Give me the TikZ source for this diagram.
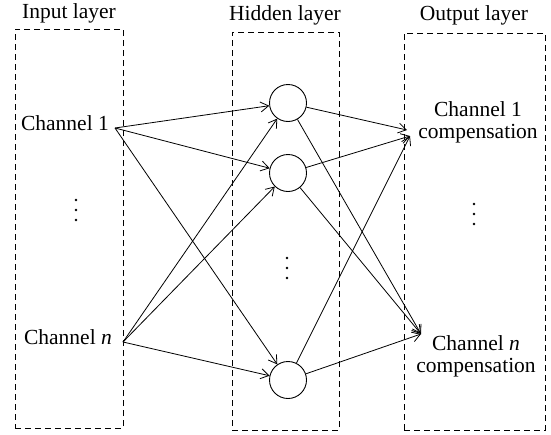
\documentclass[tikz,border=0pt]{standalone}
\usepackage{fontspec}
\setmainfont{Liberation Serif}
\usetikzlibrary{arrows.meta}
\begin{document}
\begin{tikzpicture}[x=1pt,y=-1pt,
  every node/.style={font=\fontsize{21.5}{22}\selectfont, inner sep=0pt},
  layerbox/.style={draw, dashed, dash pattern=on 6pt off 4pt, line width=0.9pt},
  neuron/.style={draw, circle, line width=0.9pt, minimum size=37pt},
  dotmark/.style={fill=black},
  conn/.style={line width=0.8pt, -{Straight Barb[length=8pt,width=10pt,line width=0.8pt]}}]
\useasboundingbox (0,0) rectangle (551,434);
% layer boxes
\node[layerbox, minimum width=108pt, minimum height=399pt] (inbox) at (69,228.5) {};
\node[layerbox, minimum width=107pt, minimum height=398pt] (hidbox) at (285.5,231) {};
\node[layerbox, minimum width=141pt, minimum height=397pt] (outbox) at (474.5,231.5) {};
% titles
\node (tin) at (69,13) {Input layer};
\node (thid) at (285,15) {Hidden layer};
\node (tout) at (474,15) {Output layer};
% input nodes
\node (in1) at (65,123) {Channel 1};
\node (inn) at (68,337) {Channel \textit{n}};
\coordinate (c1) at (115,128);
\coordinate (cn) at (123,342);
\foreach \y in {200,210,220} \fill[dotmark] (76,\y) circle (1.3pt);
% hidden neurons
\node[neuron] (h1) at (288,103) {};
\node[neuron] (h2) at (288,173) {};
\node[neuron] (h3) at (288,380) {};
\foreach \y in {258,268,278} \fill[dotmark] (287,\y) circle (1.3pt);
% outputs
\node[align=center] (o1) at (478,122) {Channel 1\\compensation};
\node[align=center] (on) at (476,356) {Channel \textit{n}\\compensation};
\foreach \y in {204,214,224} \fill[dotmark] (474,\y) circle (1.3pt);
\coordinate (t1a) at (407,130);
\coordinate (t1b) at (410,136);
\coordinate (tn) at (421,334);
% input -> hidden
\draw[conn] (c1) -- (h1);
\draw[conn] (c1) -- (h2);
\draw[conn] (c1) -- (h3);
\draw[conn] (cn) -- (h1);
\draw[conn] (cn) -- (h2);
\draw[conn] (cn) -- (h3);
% hidden -> output
\draw[conn] (h1) -- (t1a);
\draw[conn] (h1) -- (tn);
\draw[conn] (h2) -- (t1b);
\draw[conn] (h2) -- (tn);
\draw[conn] (h3) -- (t1b);
\draw[conn] (h3) -- (tn);
\end{tikzpicture}
\end{document}
